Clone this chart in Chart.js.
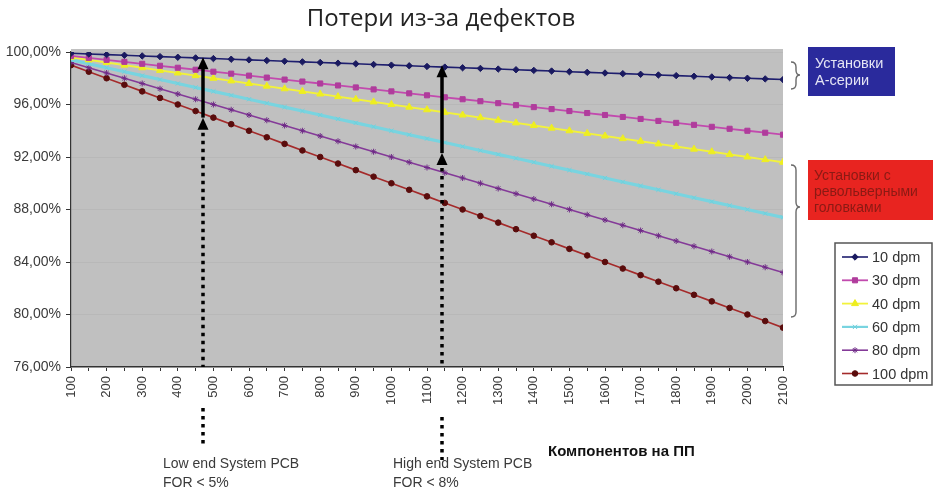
<!DOCTYPE html>
<html>
<head>
<meta charset="utf-8">
<script src="https://cdn.jsdelivr.net/npm/chart.js@4/dist/chart.umd.min.js"></script>
<style>
  html, body { margin: 0; padding: 0; background: #fff; }
  #wrap { width: 939px; height: 498px; position: relative; }
</style>
</head>
<body>
<div id="wrap"><canvas id="lossChart"></canvas></div>
<script>
// components per board (x), yield in % per defect rate (y)
const components = [100,150,200,250,300,350,400,450,500,550,600,650,700,750,800,850,900,950,1000,1050,
  1100,1150,1200,1250,1300,1350,1400,1450,1500,1550,1600,1650,1700,1750,1800,1850,1900,1950,2000,2050,2100];

const dpm10 = [99.90,99.85,99.80,99.75,99.70,99.65,99.60,99.55,99.50,99.45,99.40,99.35,99.30,99.25,99.20,99.15,99.10,99.05,99.00,98.95,
  98.90,98.85,98.80,98.75,98.70,98.65,98.60,98.55,98.50,98.45,98.40,98.35,98.30,98.25,98.20,98.15,98.10,98.05,98.00,97.95,97.90];
const dpm30 = [99.70,99.55,99.40,99.25,99.10,98.95,98.80,98.65,98.50,98.35,98.20,98.05,97.90,97.75,97.60,97.45,97.30,97.15,97.00,96.85,
  96.70,96.55,96.40,96.25,96.10,95.95,95.80,95.65,95.50,95.35,95.20,95.05,94.90,94.75,94.60,94.45,94.30,94.15,94.00,93.85,93.70];
const dpm40 = [99.6,99.4,99.2,99.0,98.8,98.6,98.4,98.2,98.0,97.8,97.6,97.4,97.2,97.0,96.8,96.6,96.4,96.2,96.0,95.8,
  95.6,95.4,95.2,95.0,94.8,94.6,94.4,94.2,94.0,93.8,93.6,93.4,93.2,93.0,92.8,92.6,92.4,92.2,92.0,91.8,91.6];
const dpm60 = [99.4,99.1,98.8,98.5,98.2,97.9,97.6,97.3,97.0,96.7,96.4,96.1,95.8,95.5,95.2,94.9,94.6,94.3,94.0,93.7,
  93.4,93.1,92.8,92.5,92.2,91.9,91.6,91.3,91.0,90.7,90.4,90.1,89.8,89.5,89.2,88.9,88.6,88.3,88.0,87.7,87.4];
const dpm80 = [99.2,98.8,98.4,98.0,97.6,97.2,96.8,96.4,96.0,95.6,95.2,94.8,94.4,94.0,93.6,93.2,92.8,92.4,92.0,91.6,
  91.2,90.8,90.4,90.0,89.6,89.2,88.8,88.4,88.0,87.6,87.2,86.8,86.4,86.0,85.6,85.2,84.8,84.4,84.0,83.6,83.2];
const dpm100 = [99.0,98.5,98.0,97.5,97.0,96.5,96.0,95.5,95.0,94.5,94.0,93.5,93.0,92.5,92.0,91.5,91.0,90.5,90.0,89.5,
  89.0,88.5,88.0,87.5,87.0,86.5,86.0,85.5,85.0,84.5,84.0,83.5,83.0,82.5,82.0,81.5,81.0,80.5,80.0,79.5,79.0];

const seriesNames = ['10 dpm', '30 dpm', '40 dpm', '60 dpm', '80 dpm', '100 dpm'];
const seriesValues = [dpm10, dpm30, dpm40, dpm60, dpm80, dpm100];

const titleText = 'Потери из-за дефектов';
const xTitle = 'Компонентов на ПП';
const boxA = ['Установки', 'А-серии'];
const boxRev = ['Установки с', 'револьверными', 'головками'];
const notes = [['Low end System PCB', 'FOR < 5%'], ['High end System PCB', 'FOR < 8%']];

const FONT = '"Liberation Sans", Arial, sans-serif';

const STYLES = [
  { color: '#1e1e6e', point: '#1a1a60', style: 'rectRot', r: 3.2, w: 1.6 },
  { color: '#c24aae', point: '#b03c9c', style: 'rect',    r: 3.6, w: 1.8 },
  { color: '#f2f23c', point: '#eeee20', style: 'triangle',r: 4,   w: 1.8 },
  { color: '#78d4e0', point: '#70d0dc', style: 'crossRot',r: 3,   w: 3.2 },
  { color: '#843a98', point: '#6e2a86', style: 'star',    r: 3,   w: 1.6 },
  { color: '#a42a2a', point: '#5a0c0c', style: 'circle',  r: 2.8, w: 1.6 },
];

// arrow annotations: x in components, y range in %
const arrows = [
  { x: 470,  top: 99.6, bottom: 95.0, below: [408, 446] },
  { x: 1142, top: 99.0, bottom: 92.3, below: [417, 460] },
];

function arrowHead(ctx, x, tipY) {
  ctx.beginPath();
  ctx.moveTo(x, tipY);
  ctx.lineTo(x - 5.5, tipY + 12);
  ctx.lineTo(x + 5.5, tipY + 12);
  ctx.closePath();
  ctx.fill();
}

function brace(ctx, x, top, tip, bottom) {
  ctx.beginPath();
  ctx.moveTo(x, top);
  ctx.quadraticCurveTo(x + 5, top, x + 5, top + 5);
  ctx.lineTo(x + 5, tip - 5);
  ctx.quadraticCurveTo(x + 5, tip, x + 9, tip);
  ctx.quadraticCurveTo(x + 5, tip, x + 5, tip + 5);
  ctx.lineTo(x + 5, bottom - 5);
  ctx.quadraticCurveTo(x + 5, bottom, x, bottom);
  ctx.stroke();
}

const decor = {
  id: 'decor',
  beforeDraw(chart) {
    const { ctx, chartArea: a } = chart;
    ctx.save();
    ctx.fillStyle = '#c0c0c0';
    ctx.fillRect(a.left, a.top - 3, a.right - a.left, a.bottom - a.top + 3);
    ctx.restore();
  },
  afterDatasetsDraw(chart) {
    const { ctx, chartArea: a } = chart;
    const xs = chart.scales.x, ys = chart.scales.y;
    ctx.save();
    ctx.fillStyle = '#000';
    ctx.strokeStyle = '#000';
    arrows.forEach(ar => {
      const x = Math.round(xs.getPixelForValue(ar.x));
      const top = ys.getPixelForValue(ar.top);
      const bot = ys.getPixelForValue(ar.bottom);
      ctx.setLineDash([]);
      ctx.lineWidth = 3.5;
      ctx.beginPath();
      ctx.moveTo(x, top + 8);
      ctx.lineTo(x, bot);
      ctx.stroke();
      arrowHead(ctx, x, top);
      arrowHead(ctx, x, bot);
      // dotted guide
      ctx.lineWidth = 3.5;
      ctx.setLineDash([3.5, 4.5]);
      ctx.beginPath();
      ctx.moveTo(x, bot + 15);
      ctx.lineTo(x, a.bottom);
      ctx.moveTo(x, ar.below[0]);
      ctx.lineTo(x, ar.below[1]);
      ctx.stroke();
    });
    ctx.restore();
  },
  afterDraw(chart) {
    const { ctx } = chart;
    ctx.save();
    // title
    ctx.fillStyle = '#222';
    ctx.font = '24px "Open Sans", ' + FONT;
    ctx.textAlign = 'center';
    ctx.textBaseline = 'middle';
    ctx.fillText(titleText, 441, 19);

    // blue box
    ctx.fillStyle = '#2a2a9c';
    ctx.fillRect(808, 47, 87, 49);
    ctx.fillStyle = '#e4e4f4';
    ctx.font = '14.5px ' + FONT;
    ctx.textAlign = 'left';
    ctx.fillText(boxA[0], 815, 64);
    ctx.fillText(boxA[1], 815, 81);

    // red box
    ctx.fillStyle = '#e82420';
    ctx.fillRect(808, 160, 125, 60);
    ctx.save();
    ctx.beginPath();
    ctx.rect(808, 160, 125, 60);
    ctx.clip();
    ctx.fillStyle = '#8a1a14';
    ctx.font = '14px ' + FONT;
    ctx.fillText(boxRev[0], 814, 176);
    ctx.fillText(boxRev[1], 814, 192);
    ctx.fillText(boxRev[2], 814, 208);
    ctx.restore();

    // braces
    ctx.strokeStyle = '#6a6a6a';
    ctx.lineWidth = 1.4;
    brace(ctx, 791, 62, 75, 89);
    brace(ctx, 791, 165, 207, 317);

    // legend
    ctx.fillStyle = '#fff';
    ctx.fillRect(835, 243, 97, 142);
    ctx.strokeStyle = '#555';
    ctx.lineWidth = 1.5;
    ctx.strokeRect(835, 243, 97, 142);
    ctx.save();
    ctx.beginPath();
    ctx.rect(836, 244, 95, 140);
    ctx.clip();
    chart.data.datasets.forEach((ds, i) => {
      const y = 257 + i * 23.3;
      ctx.strokeStyle = ds.borderColor;
      ctx.lineWidth = Math.min(ds.borderWidth, 2.2);
      ctx.beginPath();
      ctx.moveTo(842, y);
      ctx.lineTo(868, y);
      ctx.stroke();
      ctx.fillStyle = ds.pointBackgroundColor;
      ctx.strokeStyle = ds.pointBorderColor;
      ctx.lineWidth = 1;
      if (Chart.helpers && Chart.helpers.drawPoint) {
        Chart.helpers.drawPoint(ctx, { pointStyle: ds.pointStyle, radius: ds.pointRadius, rotation: 0, borderWidth: 1 }, 855, y);
      }
      ctx.fillStyle = '#333';
      ctx.font = '14.5px ' + FONT;
      ctx.textAlign = 'left';
      ctx.textBaseline = 'middle';
      ctx.fillText(seriesNames[i], 872, y + 1);
    });
    ctx.restore();

    // notes under the axis
    ctx.fillStyle = '#3a3a3a';
    ctx.font = '14px ' + FONT;
    ctx.textAlign = 'left';
    ctx.textBaseline = 'middle';
    ctx.fillText(notes[0][0], 163, 464);
    ctx.fillText(notes[0][1], 163, 483);
    ctx.fillText(notes[1][0], 393, 464);
    ctx.fillText(notes[1][1], 393, 483);

    ctx.fillStyle = '#111';
    ctx.font = 'bold 15px ' + FONT;
    ctx.fillText(xTitle, 548, 452);
    ctx.restore();
  }
};

new Chart(document.getElementById('lossChart'), {
  type: 'line',
  data: {
    datasets: seriesValues.map((vals, i) => ({
      label: seriesNames[i],
      data: components.map((c, k) => ({ x: c, y: vals[k] })),
      borderColor: STYLES[i].color,
      borderWidth: STYLES[i].w,
      pointStyle: STYLES[i].style,
      pointRadius: STYLES[i].r,
      pointBackgroundColor: STYLES[i].point,
      pointBorderColor: STYLES[i].point,
      pointBorderWidth: 1,
      tension: 0,
      fill: false,
    })),
  },
  options: {
    responsive: true,
    maintainAspectRatio: false,
    animation: false,
    layout: { padding: { top: 52, right: 156, bottom: 0, left: 0 } },
    plugins: { legend: { display: false }, title: { display: false }, tooltip: { enabled: false } },
    scales: {
      x: {
        type: 'linear',
        min: 100,
        max: 2100,
        afterFit: s => { s.height = 131; },
        grid: { drawOnChartArea: false, tickLength: 4, tickColor: '#333' },
        border: { color: '#333', width: 1.2 },
        ticks: {
          stepSize: 50,
          maxTicksLimit: 100,
          autoSkip: false,
          minRotation: 90,
          maxRotation: 90,
          padding: 5,
          color: '#3a3a3a',
          font: { family: FONT, size: 13 },
          callback: v => (v % 100 === 0 ? String(v) : ''),
        },
      },
      y: {
        min: 76,
        max: 100,
        afterFit: s => { s.width = 71; },
        grid: { color: '#b8b8b8', tickColor: '#333', tickLength: 5, lineWidth: 1 },
        border: { color: '#333', width: 1.2 },
        ticks: {
          stepSize: 4,
          padding: 5,
          color: '#3a3a3a',
          font: { family: FONT, size: 14 },
          callback: v => v.toFixed(2).replace('.', ',') + '%',
        },
      },
    },
  },
  plugins: [decor],
});
</script>
</body>
</html>
